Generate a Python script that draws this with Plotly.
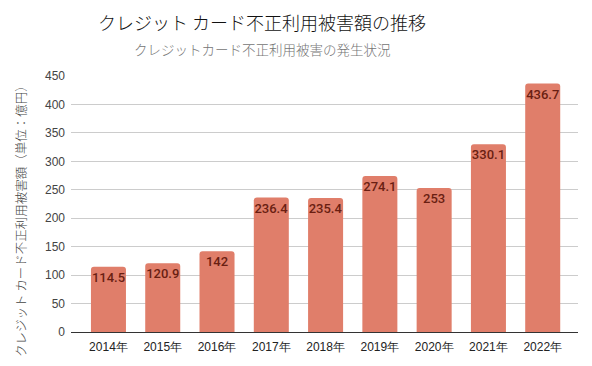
import plotly.graph_objects as go

years = ["2014年", "2015年", "2016年", "2017年", "2018年", "2019年", "2020年", "2021年", "2022年"]
damage = [114.5, 120.9, 142, 236.4, 235.4, 274.1, 253, 330.1, 436.7]
labels = ["114.5", "120.9", "142", "236.4", "235.4", "274.1", "253", "330.1", "436.7"]
y_ticks = [0, 50, 100, 150, 200, 250, 300, 350, 400, 450]

title_text = "クレジット カード不正利用被害額の推移"
subtitle_text = "クレジットカード不正利用被害の発生状況"
y_title = "クレジット カード不正利用被害額（単位：億円）"

W, H = 592, 366
L, R, T, B = 71, 14, 76, 34
pw = W - L - R
ph = H - T - B

def py(pix):
    return (H - B - pix) / ph

fig = go.Figure(go.Bar(
    x=years, y=damage, text=labels,
    marker=dict(color="#e07e6a", line=dict(width=0)),
    textposition="inside", insidetextanchor="end",
    textfont=dict(family="Roboto", size=13, color="#6a1e12", weight=500),
    constraintext="none",
    textangle=0,
    hoverinfo="skip",
))

fig.update_layout(
    width=W, height=H,
    margin=dict(l=L, r=R, t=T, b=B, pad=0),
    paper_bgcolor="white", plot_bgcolor="white",
    bargap=0.355,
    barcornerradius=3,
    showlegend=False,
    font=dict(family="Liberation Sans, Arial", size=12, color="#444"),
    xaxis=dict(
        type="category", range=[-0.69, 8.65],
        showgrid=False, showline=True, linecolor="#333", linewidth=1,
        ticks="", tickfont=dict(size=12, color="#222"), ticklabelstandoff=4,
        fixedrange=True,
    ),
    yaxis=dict(
        range=[0, 450], tickvals=y_ticks, ticktext=[str(v) for v in y_ticks],
        showgrid=True, gridcolor="#cccccc", gridwidth=1,
        zeroline=False, showline=False, ticks="",
        tickfont=dict(size=12, color="#444"), ticklabelstandoff=5,
        fixedrange=True,
    ),
    annotations=[
        dict(text=title_text, x=(262 - L) / pw, y=py(22), xref="paper", yref="paper",
             showarrow=False, xanchor="center", yanchor="middle",
             font=dict(family="Noto Sans CJK JP", size=18, color="#111", weight=300)),
        dict(text=subtitle_text, x=(262 - L) / pw, y=py(49), xref="paper", yref="paper",
             showarrow=False, xanchor="center", yanchor="middle",
             font=dict(family="Noto Sans CJK JP", size=13.5, color="#757575", weight=300)),
        dict(text=y_title, x=(20 - L) / pw, y=py(218),
             xref="paper", yref="paper", textangle=-90,
             showarrow=False, xanchor="center", yanchor="middle",
             font=dict(family="Noto Sans CJK JP", size=12.5, color="#444", weight=300)),
    ],
)

fig.write_html("out.html", config={"displayModeBar": False},
               post_script="document.body.style.margin='0';document.body.style.padding='0';")
